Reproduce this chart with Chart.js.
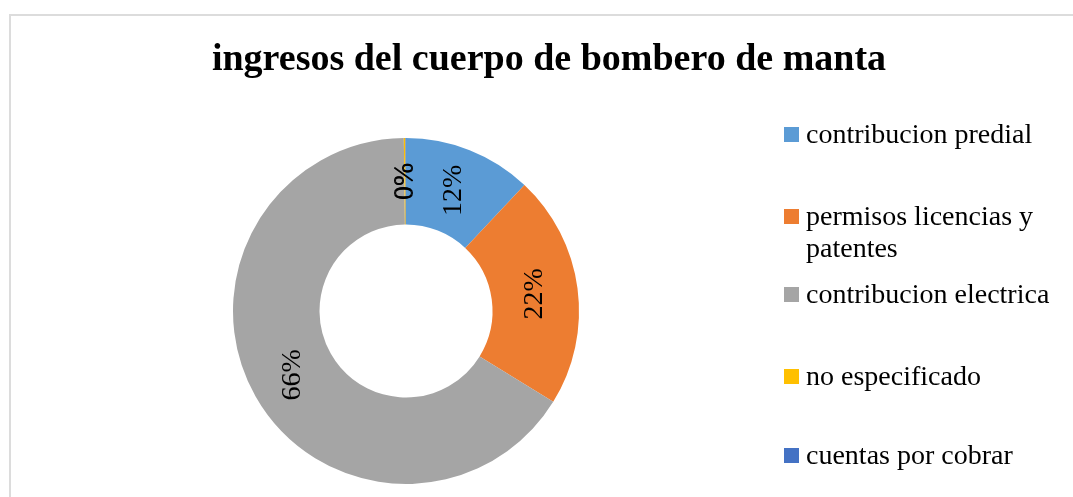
<!DOCTYPE html>
<html lang="es">
<head>
    <meta charset="UTF-8">
    <title>ingresos del cuerpo de bombero de manta</title>
    <script src="https://cdn.jsdelivr.net/npm/chart.js"></script>
    <style>
        html, body { margin: 0; padding: 0; background: #ffffff; overflow: hidden; }
        #wrap { position: relative; width: 1073px; height: 497px; overflow: hidden; }
        #frame { position: absolute; left: 9px; top: 14px; width: 1100px; height: 600px; border: 2px solid #dcdcdc; }
        #chart { position: absolute; left: 0; top: 0; }
        #title { position: absolute; left: 0; width: 1098px; top: 37px; text-align: center;
                 font-family: 'Liberation Serif', 'Times New Roman', serif; font-weight: bold; font-size: 38px; line-height: 40px; color: #000; }
        #legend { position: absolute; left: 784px; top: 0; font-family: 'Liberation Serif', 'Times New Roman', serif; font-size: 28px; line-height: 32px; color: #000; }
        .item { position: absolute; left: 0; width: 290px; padding-left: 22px; }
        .item .box { position: absolute; left: 0; top: 9px; width: 15px; height: 15px; }
        .item:nth-child(1) { top: 118px; }
        .item:nth-child(2) { top: 200px; }
        .item:nth-child(3) { top: 278px; }
        .item:nth-child(4) { top: 360px; }
        .item:nth-child(5) { top: 439px; }
    </style>
</head>
<body>
<div id="wrap">
    <div id="frame"></div>
    <canvas id="chart" width="1073" height="497"></canvas>
    <div id="title">ingresos del cuerpo de bombero de manta</div>
    <div id="legend"></div>
</div>
<script>
    const categories = ['contribucion predial', 'permisos licencias y patentes', 'contribucion electrica', 'no especificado', 'cuentas por cobrar'];
    const values = [12.0, 21.8, 66.0, 0.15, 0.05];
    const colors = ['#5B9BD5', '#ED7D31', '#A5A5A5', '#FFC000', '#4472C4'];

    // rotated percentage labels in the middle of each slice
    const sliceLabels = {
        id: 'sliceLabels',
        afterDatasetsDraw(chart) {
            const ctx = chart.ctx;
            const data = chart.data.datasets[0].data;
            const total = data.reduce((a, b) => a + b, 0);
            chart.getDatasetMeta(0).data.forEach((arc, i) => {
                const p = arc.tooltipPosition(true);
                ctx.save();
                ctx.translate(p.x, p.y);
                ctx.rotate(-Math.PI / 2);
                ctx.font = '28px "Liberation Serif", "Times New Roman", serif';
                ctx.fillStyle = '#000';
                ctx.textAlign = 'center';
                ctx.textBaseline = 'middle';
                ctx.fillText(Math.round(data[i] / total * 100) + '%', 0, 0);
                ctx.restore();
            });
        }
    };

    const chart = new Chart(document.getElementById('chart'), {
        type: 'doughnut',
        data: {
            labels: categories,
            datasets: [{ data: values, backgroundColor: colors, borderWidth: 0 }]
        },
        options: {
            responsive: false,
            animation: false,
            events: [],
            cutout: '50%',
            layout: { padding: { left: 233, right: 494, top: 138, bottom: 13 } },
            plugins: { legend: { display: false }, title: { display: false }, tooltip: { enabled: false } }
        },
        plugins: [sliceLabels]
    });

    const legend = document.getElementById('legend');
    legend.innerHTML = chart.data.labels.map((name, i) =>
        `<div class="item"><span class="box" style="background:${colors[i]}"></span>${name}</div>`
    ).join('');
</script>
</body>
</html>
